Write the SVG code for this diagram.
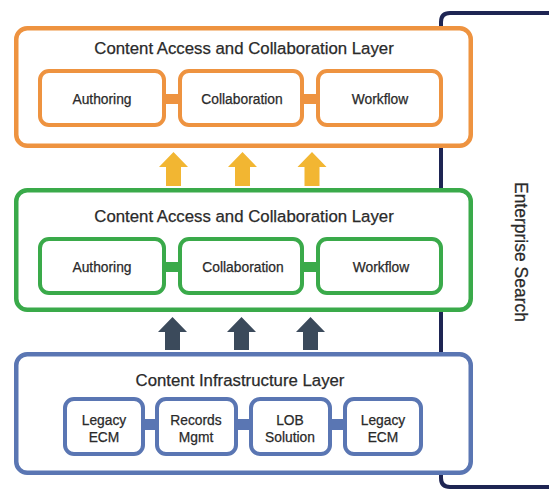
<svg xmlns="http://www.w3.org/2000/svg" width="549" height="489" viewBox="0 0 549 489">
<style>
.t{font-family:"Liberation Sans",Arial,sans-serif;fill:#2a2a2a;stroke:#2a2a2a;stroke-width:0.25;text-anchor:middle}
.h{font-size:16.8px}
.s{font-size:13.8px}
.box{fill:#fff;stroke-width:4.5}
.in{fill:#fff;stroke-width:4}
.o{stroke:#EE9340}.g{stroke:#3AAA4A}.b{stroke:#5A76B3}
</style>
<rect width="549" height="489" fill="#fff"/>
<g id="enterprise-search">
<path d="M551,13 H450 Q441,13 441,22 V478 Q441,487 450,487 H551" fill="none" stroke="#1E2553" stroke-width="4"/>
<text class="t" style="font-size:17.5px" transform="translate(515,252) rotate(90)">Enterprise Search</text>
</g>
<g id="connectors">
<g fill="#F2B632">
<path d="M173.5,152 L188,167 H181 V186 H166 V167 H159 Z"/>
<path d="M242.5,152 L257,167 H250 V186 H235 V167 H228 Z"/>
<path d="M312,152 L326.5,167 H319.5 V186 H304.5 V167 H297.5 Z"/>
</g>
<g fill="#3B4A5B">
<path d="M172.5,317 L187,332 H180 V350 H165 V332 H158 Z"/>
<path d="M241.5,317 L256,332 H249 V350 H234 V332 H227 Z"/>
<path d="M310.5,317 L325,332 H318 V350 H303 V332 H296 Z"/>
</g>
</g>
<g id="access-layer-top">
<rect class="box o" x="16.25" y="28.25" width="454.5" height="117.5" rx="11"/>
<text class="t h" x="244" y="54">Content Access and Collaboration Layer</text>
<rect x="164" y="94" width="16" height="10" fill="#EE9340"/>
<rect x="302" y="94" width="16" height="10" fill="#EE9340"/>
<g id="authoring-top"><rect class="in o" x="40" y="71" width="124" height="54" rx="9"/><text class="t s" x="102" y="104">Authoring</text></g>
<g id="collaboration-top"><rect class="in o" x="180" y="71" width="122" height="54" rx="9"/><text class="t s" x="242" y="104">Collaboration</text></g>
<g id="workflow-top"><rect class="in o" x="318" y="71" width="123" height="54" rx="9"/><text class="t s" x="380" y="104">Workflow</text></g>
</g>
<g id="access-layer-mid">
<rect class="box g" x="16.25" y="190.25" width="454.5" height="119.5" rx="11"/>
<text class="t h" x="244" y="222">Content Access and Collaboration Layer</text>
<rect x="164" y="262" width="16" height="10" fill="#3AAA4A"/>
<rect x="302" y="262" width="16" height="10" fill="#3AAA4A"/>
<g id="authoring-mid"><rect class="in g" x="40" y="239" width="124" height="54" rx="9"/><text class="t s" x="102" y="272">Authoring</text></g>
<g id="collaboration-mid"><rect class="in g" x="180" y="239" width="122" height="54" rx="9"/><text class="t s" x="243" y="272">Collaboration</text></g>
<g id="workflow-mid"><rect class="in g" x="318" y="239" width="123" height="54" rx="9"/><text class="t s" x="381" y="272">Workflow</text></g>
</g>
<g id="infrastructure-layer">
<rect class="box b" x="16.25" y="354.25" width="454.5" height="118.5" rx="11"/>
<text class="t h" x="240" y="386">Content Infrastructure Layer</text>
<rect x="143" y="419" width="14" height="11" fill="#5A76B3"/>
<rect x="236" y="419" width="15" height="11" fill="#5A76B3"/>
<rect x="330" y="419" width="15" height="11" fill="#5A76B3"/>
<g id="legacy-ecm-1"><rect class="in b" x="65" y="399" width="78" height="55" rx="9"/><text class="t s" x="104" y="425">Legacy</text><text class="t s" x="104" y="442">ECM</text></g>
<g id="records-mgmt"><rect class="in b" x="157" y="399" width="79" height="55" rx="9"/><text class="t s" x="196" y="425">Records</text><text class="t s" x="196" y="442">Mgmt</text></g>
<g id="lob-solution"><rect class="in b" x="251" y="399" width="79" height="55" rx="9"/><text class="t s" x="290" y="425">LOB</text><text class="t s" x="290" y="442">Solution</text></g>
<g id="legacy-ecm-2"><rect class="in b" x="345" y="399" width="76" height="55" rx="9"/><text class="t s" x="383" y="425">Legacy</text><text class="t s" x="383" y="442">ECM</text></g>
</g>
</svg>
